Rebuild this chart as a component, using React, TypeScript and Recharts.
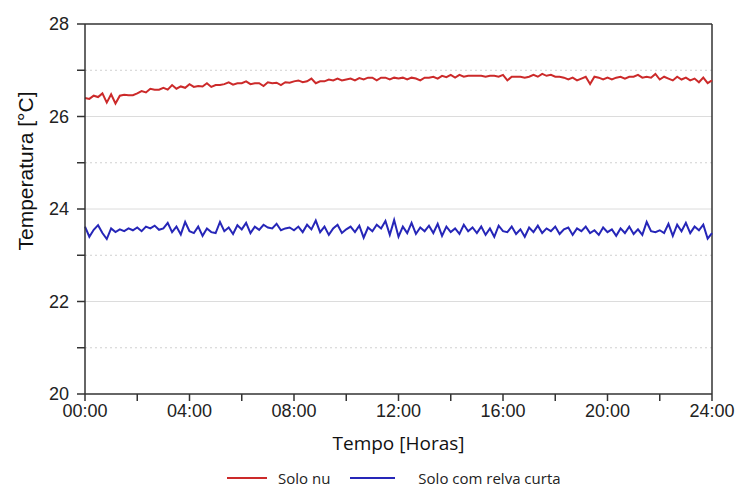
import {
  CartesianGrid,
  Line,
  LineChart,
  ReferenceLine,
  XAxis,
  YAxis,
} from "recharts";

// readings every 10 minutes, 00:00 -> 24:00
const soloNu = [
  26.4, 26.38, 26.45, 26.42, 26.5, 26.3,
  26.48, 26.28, 26.45, 26.47, 26.46, 26.46,
  26.5, 26.55, 26.52, 26.6, 26.58, 26.58,
  26.62, 26.58, 26.68, 26.6, 26.65, 26.62,
  26.7, 26.64, 26.66, 26.65, 26.72, 26.64,
  26.68, 26.68, 26.7, 26.74, 26.69, 26.72,
  26.72, 26.76, 26.7, 26.72, 26.72, 26.66,
  26.74, 26.72, 26.73, 26.68, 26.74, 26.73,
  26.76, 26.78, 26.74, 26.76, 26.82, 26.72,
  26.76, 26.76, 26.8, 26.78, 26.82, 26.78,
  26.8, 26.82, 26.78, 26.83, 26.8, 26.84,
  26.84, 26.78, 26.84, 26.84, 26.8, 26.84,
  26.82, 26.84, 26.8, 26.84, 26.82, 26.78,
  26.84, 26.84, 26.86, 26.82, 26.88, 26.85,
  26.9, 26.84, 26.9, 26.86, 26.88, 26.88,
  26.88, 26.88, 26.86, 26.88, 26.88, 26.86,
  26.9, 26.78, 26.86, 26.86, 26.86, 26.84,
  26.86, 26.9, 26.86, 26.92, 26.88, 26.9,
  26.86, 26.86, 26.84, 26.8, 26.84, 26.78,
  26.82, 26.86, 26.7, 26.86, 26.84, 26.8,
  26.84, 26.8, 26.84, 26.86, 26.82, 26.86,
  26.86, 26.9, 26.84, 26.86, 26.84, 26.92,
  26.8, 26.86, 26.82, 26.78, 26.86, 26.8,
  26.84, 26.78, 26.82, 26.74, 26.84, 26.72,
  26.78,
];

const soloRelva = [
  23.62, 23.4, 23.55, 23.65, 23.48, 23.35,
  23.58, 23.5, 23.56, 23.52, 23.58, 23.54,
  23.6, 23.52, 23.62, 23.58, 23.64, 23.55,
  23.58, 23.7, 23.5, 23.62, 23.45, 23.72,
  23.52, 23.48, 23.62, 23.42, 23.58, 23.5,
  23.48, 23.72, 23.52, 23.6, 23.46, 23.65,
  23.56, 23.7, 23.48, 23.62, 23.55, 23.66,
  23.6, 23.58, 23.68, 23.54, 23.58, 23.6,
  23.54, 23.62, 23.5, 23.66, 23.56, 23.75,
  23.5, 23.62, 23.44, 23.58, 23.66, 23.48,
  23.56, 23.62, 23.5, 23.64, 23.38, 23.6,
  23.52, 23.66, 23.58, 23.74, 23.44, 23.76,
  23.4, 23.62, 23.48, 23.7, 23.46, 23.6,
  23.52, 23.64, 23.48, 23.68, 23.42, 23.62,
  23.5, 23.58, 23.46, 23.66, 23.52, 23.6,
  23.48, 23.62, 23.44, 23.58, 23.4, 23.64,
  23.52, 23.5, 23.62, 23.46, 23.56, 23.4,
  23.6, 23.5, 23.64, 23.48, 23.58, 23.52,
  23.62, 23.46, 23.56, 23.6, 23.44, 23.58,
  23.52, 23.62, 23.48, 23.54, 23.44, 23.6,
  23.5, 23.56, 23.42, 23.58, 23.48, 23.62,
  23.46, 23.56, 23.44, 23.72, 23.52, 23.5,
  23.54, 23.48, 23.68, 23.42, 23.66, 23.52,
  23.7, 23.48, 23.62, 23.54, 23.66, 23.36,
  23.48,
];

const xTicks = [0, 2, 4, 6, 8, 10, 12, 14, 16, 18, 20, 22, 24];
const yTicks = [20, 21, 22, 23, 24, 25, 26, 27, 28];
const gridSolid = [22, 24, 26];
const gridDotted = [21, 23, 25, 27];

const data = soloNu.map((v, i) => ({
  hora: i / 6,
  nu: v,
  relva: soloRelva[i],
}));

const arial = "Liberation Sans, Arial, sans-serif";
const axisFont = { fontFamily: arial, fontSize: 18, fill: "#222" };

const fmtHora = (h: number) => (h % 4 === 0 ? `${String(h).padStart(2, "0")}:00` : "");

function YLabel() {
  return (
    <text
      x={25}
      y={171}
      transform="rotate(-90, 25, 171)"
      textAnchor="middle"
      dominantBaseline="central"
      fontFamily={arial}
      fontSize={21}
      fill="#111"
    >
      Temperatura [°C]
    </text>
  );
}

export default function App() {
  return (
    <div style={{ position: "absolute", left: 0, top: 0, width: 738, height: 488 }}>
      <LineChart
        width={738}
        height={462}
        data={data}
        margin={{ top: 24, right: 26, left: 0, bottom: 0 }}
      >
        <CartesianGrid vertical={false} horizontalValues={gridSolid} stroke="#dcdcdc" />
        <CartesianGrid
          vertical={false}
          horizontalValues={gridDotted}
          stroke="#d0d0d0"
          strokeDasharray="2 3"
        />
        <XAxis
          type="number"
          dataKey="hora"
          domain={[0, 24]}
          ticks={xTicks}
          interval={0}
          tickFormatter={fmtHora}
          height={68}
          tickSize={7}
          tickMargin={3}
          stroke="#333"
          strokeWidth={1.5}
          tick={axisFont}
          label={{
            value: "Tempo [Horas]",
            position: "insideBottom",
            offset: 12,
            style: { fontFamily: "Open Sans, Noto Sans, sans-serif", fontSize: 19, fill: "#111" },
          }}
        />
        <YAxis
          type="number"
          domain={[20, 28]}
          ticks={yTicks}
          interval={0}
          tickFormatter={(v: number) => (v % 2 === 0 ? String(v) : "")}
          width={85}
          tickSize={8}
          tickMargin={8}
          stroke="#333"
          strokeWidth={1.5}
          tick={axisFont}
          label={<YLabel />}
        />
        <ReferenceLine y={28} stroke="#333" strokeWidth={1.5} />
        <ReferenceLine x={24} stroke="#333" strokeWidth={1.5} />
        <Line
          type="linear"
          dataKey="nu"
          stroke="#cc2a2a"
          strokeWidth={2}
          dot={false}
          isAnimationActive={false}
        />
        <Line
          type="linear"
          dataKey="relva"
          stroke="#2626b8"
          strokeWidth={2}
          dot={false}
          isAnimationActive={false}
        />
      </LineChart>
      <div
        style={{
          display: "flex",
          alignItems: "center",
          height: 20,
          marginTop: 6,
          paddingLeft: 227,
          fontFamily: "Open Sans, Noto Sans, sans-serif",
          fontSize: 15,
          color: "#222",
        }}
      >
        <span style={{ width: 40, height: 2, background: "#cc2a2a", display: "inline-block" }} />
        <span style={{ marginLeft: 11 }}>Solo nu</span>
        <span
          style={{ width: 45, height: 2, background: "#2626b8", display: "inline-block", marginLeft: 20 }}
        />
        <span style={{ marginLeft: 23 }}>Solo com relva curta</span>
      </div>
    </div>
  );
}
